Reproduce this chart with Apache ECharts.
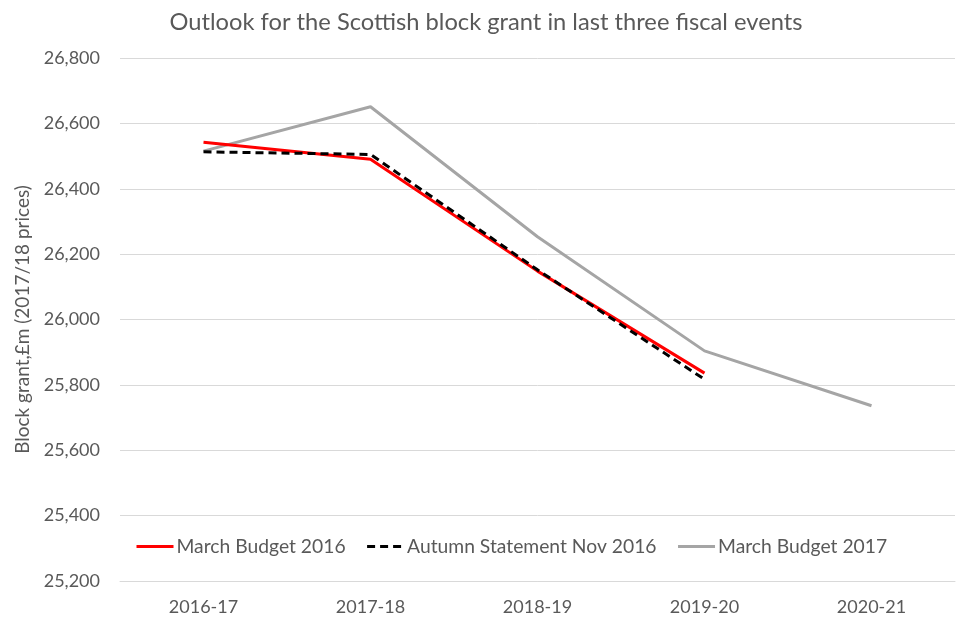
<!DOCTYPE html>
<html><head><meta charset="utf-8">
<script src="https://cdn.jsdelivr.net/npm/echarts@6/dist/echarts.min.js"></script>
<style>html,body{margin:0;padding:0;background:#fff}#c{width:966px;height:637px}</style>
</head><body><div id="c"></div>
<script>
const categories = ['2016-17','2017-18','2018-19','2019-20','2020-21'];
const marchBudget2016 = [26542, 26490, 26148, 25836, null];
const autumnStatement2016 = [26513, 26505, 26152, 25817, null];
const marchBudget2017 = [26515, 26651, 26253, 25904, 25736];
const seriesNames = ['March Budget 2016','Autumn Statement Nov 2016','March Budget 2017'];

const font = 'Lato, "Open Sans", sans-serif';
const chart = echarts.init(document.getElementById('c'), null, {renderer:'canvas'});
chart.setOption({
  animation:false,
  backgroundColor:'#fff',
  title:{text:'Outlook for the Scottish block grant in last three fiscal events',left:481,textAlign:'center',top:5,
    textStyle:{fontFamily:font,fontSize:23.7,fontWeight:'normal',color:'#595959'}},
  grid:{left:120,right:11,top:58,bottom:56},
  legend:{left:135,top:537,padding:0,itemWidth:37,itemHeight:14,itemGap:20,
    itemStyle:{opacity:0},lineStyle:{width:3},
    textStyle:{fontFamily:font,fontSize:19.3,color:'#595959',padding:[0,0,0,-2]},
    data:seriesNames},
  xAxis:{type:'category',data:categories,boundaryGap:true,
    axisLine:{show:true,lineStyle:{color:'#d9d9d9',width:1}},axisTick:{show:false},
    axisLabel:{fontFamily:font,fontSize:18,color:'#595959',margin:17}},
  yAxis:{type:'value',min:25200,max:26800,interval:200,
    name:'Block grant,£m (2017/18 prices)',nameLocation:'middle',nameGap:86,
    nameTextStyle:{fontFamily:font,fontSize:19,color:'#595959'},
    axisLine:{show:false},axisTick:{show:false},
    splitLine:{lineStyle:{color:'#d9d9d9',width:1}},
    axisLabel:{fontFamily:font,fontSize:18,color:'#595959',margin:20,
      formatter:v=>v.toLocaleString('en-US')}},
  series:[
    {name:seriesNames[0],type:'line',data:marchBudget2016,symbol:'none',
      lineStyle:{color:'#ff0000',width:3},itemStyle:{color:'#ff0000'},z:3},
    {name:seriesNames[1],type:'line',data:autumnStatement2016,symbol:'none',
      lineStyle:{color:'#000000',width:3,type:[8,5]},itemStyle:{color:'#000000'},z:4},
    {name:seriesNames[2],type:'line',data:marchBudget2017,symbol:'none',
      lineStyle:{color:'#a5a5a5',width:3},itemStyle:{color:'#a5a5a5'},z:2}
  ]
});
</script></body></html>
